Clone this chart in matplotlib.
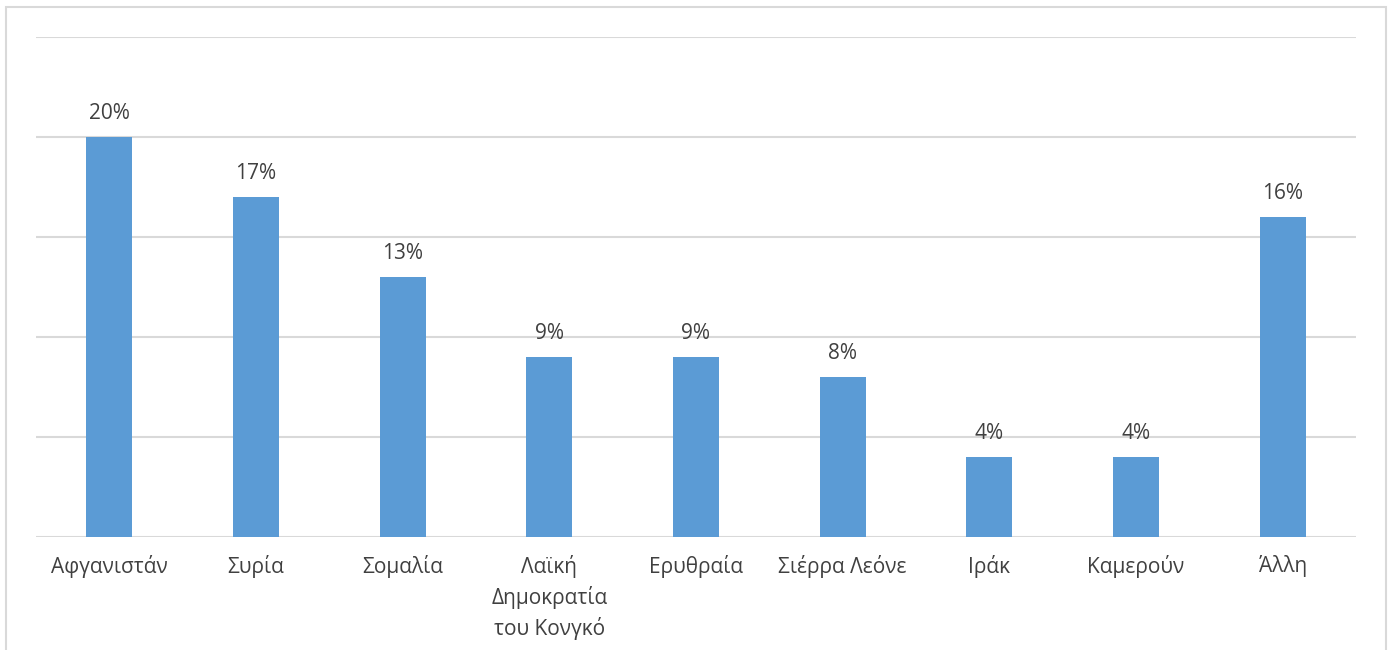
import matplotlib
matplotlib.use('Agg')
import matplotlib.pyplot as plt
from matplotlib.patches import Rectangle

# data
countries = ['Αφγανιστάν', 'Συρία', 'Σομαλία', 'Λαϊκή\nΔημοκρατία\nτου Κονγκό',
             'Ερυθραία', 'Σιέρρα Λεόνε', 'Ιράκ', 'Καμερούν', 'Άλλη']
shares = [20, 17, 13, 9, 9, 8, 4, 4, 16]

plt.rcParams['font.family'] = ['Open Sans', 'DejaVu Sans']
text_col = '#404040'
grid_col = '#d9d9d9'

W, H = 1390, 650
fig = plt.figure(figsize=(W / 100, H / 100), dpi=100)
ax = fig.add_axes([36 / W, (H - 537) / H, 1320 / W, 500 / H])

x = list(range(len(countries)))
bars = ax.bar(x, shares, width=0.315, color='#5B9BD5', zorder=3)

for b, v in zip(bars, shares):
    ax.annotate(f'{v}%', (b.get_x() + b.get_width() / 2, v),
                xytext=(0, 13), textcoords='offset points',
                ha='center', va='baseline', fontsize=15, color=text_col)

ax.set_xlim(-0.5, len(countries) - 0.5)
ax.set_ylim(0, 25)
ax.set_yticks([0, 5, 10, 15, 20, 25])
ax.yaxis.grid(True, color=grid_col, linewidth=1.5, zorder=0)
ax.tick_params(axis='y', left=False, labelleft=False)
ax.set_xticks(x)
ax.set_xticklabels(countries, fontsize=15, color=text_col, linespacing=1.45)
ax.tick_params(axis='x', length=0, pad=13)
for s in ax.spines.values():
    s.set_visible(False)

# outer chart frame, open at the bottom
fig.patches.append(Rectangle((6 / W, -0.1), 1380 / W, 1.1 - 7 / H,
                             transform=fig.transFigure, fill=False,
                             edgecolor=grid_col, linewidth=1.5))

fig.savefig('out.png', dpi=100)
